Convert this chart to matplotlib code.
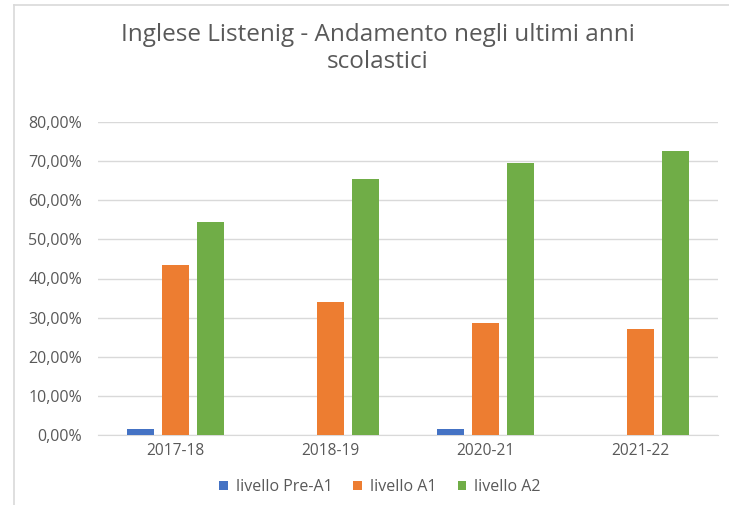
import matplotlib
matplotlib.use("Agg")
import matplotlib.pyplot as plt
import numpy as np
from matplotlib.ticker import FuncFormatter, MultipleLocator
from matplotlib.lines import Line2D

categories = ["2017-18", "2018-19", "2020-21", "2021-22"]
pre_a1 = [0.015, 0.0, 0.015, 0.0]
a1 = [0.434, 0.341, 0.285, 0.270]
a2 = [0.545, 0.655, 0.695, 0.727]
series_names = ["livello Pre-A1", "livello A1", "livello A2"]
colors = ["#4472C4", "#ED7D31", "#70AD47"]

plt.rcParams['font.family'] = ['Open Sans', 'DejaVu Sans']
text_col = "#595959"

fig = plt.figure(figsize=(7.29, 5.05), dpi=100)
ax = fig.add_axes([98/729, 1-435/505, (718-98)/729, (435-122)/505])

x = np.arange(len(categories))
w = 0.174
pitch = 0.226
for i, (vals, name, c) in enumerate(zip([pre_a1, a1, a2], series_names, colors)):
    ax.bar(x + (i-1)*pitch, vals, width=w, color=c, label=name, zorder=3)

ax.set_xlim(-0.5, len(categories)-0.5)
ax.set_ylim(0, 0.8)
ax.yaxis.set_major_locator(MultipleLocator(0.1))
ax.yaxis.set_major_formatter(FuncFormatter(lambda v, p: f"{v*100:.2f}%".replace('.', ',')))
ax.set_xticks(x)
ax.set_xticklabels(categories)
ax.grid(axis='y', color="#D9D9D9", linewidth=1.0, zorder=0)
for s in ['top', 'right', 'left']:
    ax.spines[s].set_visible(False)
ax.spines['bottom'].set_color("#D9D9D9")
ax.tick_params(axis='both', length=0, colors=text_col)
ax.tick_params(axis='y', pad=11.5, labelsize=11.5)
ax.tick_params(axis='x', pad=6, labelsize=11.2)

fig.text(378/729, 1-35/505, "Inglese Listenig - Andamento negli ultimi anni",
         ha='center', va='center', fontsize=17.5, color=text_col)
fig.text(378/729, 1-62/505, "scolastici",
         ha='center', va='center', fontsize=17.5, color=text_col)

fig.legend(loc='center', bbox_to_anchor=(380/729, 1-487/505), ncol=3, frameon=False,
           fontsize=11.5, handlelength=0.55, handleheight=0.55, columnspacing=1.3,
           handletextpad=0.5, labelcolor=text_col)

fig.add_artist(Line2D([14/729, 14/729], [0, 1-5/505], color="#D9D9D9", linewidth=1.2))
fig.add_artist(Line2D([14/729, 1], [1-5/505, 1-5/505], color="#D9D9D9", linewidth=1.2))

fig.savefig("out.png", dpi=100)
